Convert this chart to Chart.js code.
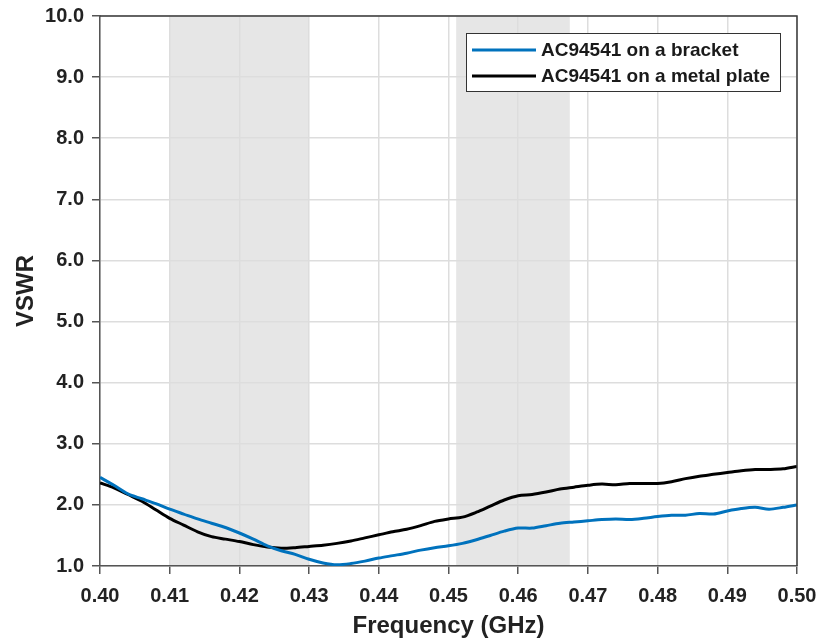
<!DOCTYPE html>
<html>
<head>
<meta charset="utf-8">
<script src="https://cdn.jsdelivr.net/npm/chart.js@4/dist/chart.umd.min.js"></script>
<style>
  html,body{margin:0;padding:0;background:#fff;}
  #wrap{width:821px;height:641px;position:relative;}
</style>
</head>
<body>
<div id="wrap"><canvas id="vswr-chart"></canvas></div>
<script>
// frequency in GHz
const freq = [0.400,0.402,0.404,0.406,0.408,0.410,0.412,0.414,0.416,0.418,
  0.420,0.422,0.424,0.426,0.428,0.430,0.432,0.434,0.436,0.438,
  0.440,0.442,0.444,0.446,0.448,0.450,0.452,0.454,0.456,0.458,
  0.460,0.462,0.464,0.466,0.468,0.470,0.472,0.474,0.476,0.478,
  0.480,0.482,0.484,0.486,0.488,0.490,0.492,0.494,0.496,0.498,0.500];

const bracketVswr = [2.45,2.32,2.18,2.10,2.02,1.93,1.85,1.77,1.70,1.63,
  1.54,1.44,1.33,1.25,1.19,1.11,1.05,1.02,1.04,1.08,
  1.13,1.17,1.21,1.26,1.30,1.33,1.37,1.43,1.50,1.57,
  1.62,1.62,1.66,1.70,1.72,1.74,1.76,1.77,1.76,1.78,
  1.81,1.83,1.83,1.86,1.85,1.90,1.94,1.96,1.93,1.96,2.00];

const metalVswr = [2.36,2.28,2.17,2.06,1.92,1.78,1.67,1.56,1.48,1.44,
  1.40,1.35,1.31,1.29,1.30,1.32,1.34,1.37,1.41,1.46,
  1.51,1.56,1.60,1.66,1.73,1.77,1.80,1.88,1.98,2.08,
  2.15,2.17,2.21,2.26,2.29,2.32,2.34,2.33,2.35,2.35,
  2.35,2.38,2.43,2.47,2.50,2.53,2.56,2.58,2.58,2.59,2.63];

const seriesNames = ['AC94541 on a bracket','AC94541 on a metal plate'];
const seriesColors = ['#0072BD','#000000'];

// shaded frequency bands [start, end] GHz
const bands = [[0.410,0.430],[0.4511,0.4674]];

const FONT = '"Liberation Sans", Arial, sans-serif';

const bandPlugin = {
  id:'bands',
  beforeDraw(chart){
    const {ctx,chartArea:a,scales:{x}} = chart;
    ctx.save();
    ctx.fillStyle = '#e6e6e6';
    bands.forEach(b=>{
      const x0 = x.getPixelForValue(b[0]);
      const x1 = x.getPixelForValue(b[1]);
      ctx.fillRect(x0,a.top,x1-x0,a.bottom-a.top);
    });
    ctx.restore();
  }
};

const framePlugin = {
  id:'frame',
  afterDraw(chart){
    const {ctx,chartArea:a} = chart;
    ctx.save();
    ctx.strokeStyle = '#3a3a3a';
    ctx.lineWidth = 1.5;
    ctx.beginPath();
    ctx.moveTo(a.left,a.top);ctx.lineTo(a.right,a.top);ctx.lineTo(a.right,a.bottom);
    ctx.stroke();

    // legend box
    const bx=466, by=33, bw=314, bh=58;
    ctx.fillStyle='#fff';
    ctx.fillRect(bx,by,bw,bh);
    ctx.strokeStyle='#333';
    ctx.lineWidth=1;
    ctx.strokeRect(bx+0.5,by+0.5,bw,bh);
    ctx.font = 'bold 19px '+FONT;
    ctx.textBaseline='middle';
    ctx.textAlign='left';
    seriesNames.forEach((n,i)=>{
      const yy = by+17+i*26;
      ctx.strokeStyle=seriesColors[i];
      ctx.lineWidth=3;
      ctx.beginPath();ctx.moveTo(bx+6,yy);ctx.lineTo(bx+70,yy);ctx.stroke();
      ctx.fillStyle='#1a1a1a';
      ctx.fillText(n,bx+75,yy+1);
    });
    ctx.restore();
  }
};

// keep tick-label overhang from shrinking the plot area
function noOverhang(s){
  s.paddingLeft=0;s.paddingRight=0;s.paddingTop=0;s.paddingBottom=0;
}

const ctx = document.getElementById('vswr-chart');
new Chart(ctx,{
  type:'line',
  data:{
    datasets:[
      {
        label:seriesNames[0],
        data:freq.map((f,i)=>({x:f,y:bracketVswr[i]})),
        borderColor:seriesColors[0],
        borderWidth:3,
        pointRadius:0,
        tension:0.3,
        fill:false
      },
      {
        label:seriesNames[1],
        data:freq.map((f,i)=>({x:f,y:metalVswr[i]})),
        borderColor:seriesColors[1],
        borderWidth:3,
        pointRadius:0,
        tension:0.3,
        fill:false
      }
    ]
  },
  options:{
    responsive:true,
    maintainAspectRatio:false,
    animation:false,
    layout:{padding:{top:16,right:24,left:0,bottom:0}},
    plugins:{legend:{display:false},tooltip:{enabled:false}},
    scales:{
      x:{
        type:'linear',
        min:0.40,max:0.50,
        afterFit(s){s.height=75;noOverhang(s);},
        ticks:{
          stepSize:0.01,
          color:'#222',
          padding:10,
          font:{family:FONT,size:20,weight:'bold'},
          callback:v=>v.toFixed(2),
          maxRotation:0
        },
        grid:{color:'#dddddd',lineWidth:1.5,tickLength:8,tickColor:'#555'},
        border:{color:'#555',width:1.5},
        title:{display:true,text:'Frequency (GHz)',color:'#222',
          font:{family:FONT,size:24,weight:'bold'},padding:{top:0,bottom:0}}
      },
      y:{
        min:1,max:10,
        afterFit(s){s.width=100;noOverhang(s);},
        ticks:{
          stepSize:1,
          color:'#222',
          padding:8,
          font:{family:FONT,size:20,weight:'bold'},
          callback:v=>v.toFixed(1)
        },
        grid:{color:'#dddddd',lineWidth:1.5,tickLength:8,tickColor:'#555'},
        border:{color:'#555',width:1.5},
        title:{display:true,text:'VSWR',color:'#222',
          font:{family:FONT,size:24,weight:'bold'},padding:{top:12,bottom:0}}
      }
    }
  },
  plugins:[bandPlugin,framePlugin]
});
</script>
</body>
</html>
